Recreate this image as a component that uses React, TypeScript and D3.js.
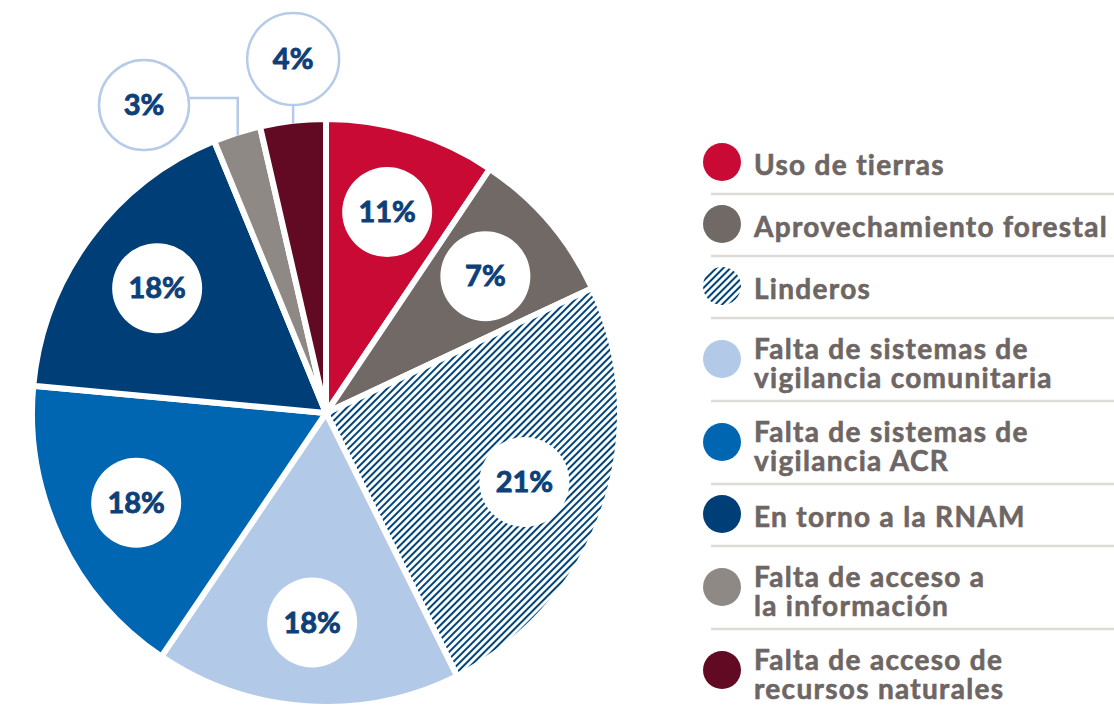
import { useMemo } from "react";
import * as d3 from "d3";

const categories = [
  "Uso de tierras",
  "Aprovechamiento forestal",
  "Linderos",
  "Falta de sistemas de vigilancia comunitaria",
  "Falta de sistemas de vigilancia ACR",
  "En torno a la RNAM",
  "Falta de acceso a la información",
  "Falta de acceso de recursos naturales",
];
const shares = [9.4, 8.6, 24.6, 16.8, 17.0, 17.3, 2.6, 3.6];
const pctLabels = ["11%", "7%", "21%", "18%", "18%", "18%", "3%", "4%"];
const legendLines = [
  ["Uso de tierras"],
  ["Aprovechamiento forestal"],
  ["Linderos"],
  ["Falta de sistemas de", "vigilancia comunitaria"],
  ["Falta de sistemas de", "vigilancia ACR"],
  ["En torno a la RNAM"],
  ["Falta de acceso a", "la información"],
  ["Falta de acceso de", "recursos naturales"],
];

const COLORS = [
  "#c90a34",
  "#716966",
  "url(#hatch)",
  "#b3c9e8",
  "#0066b1",
  "#003e78",
  "#8f8985",
  "#620a23",
];

const W = 1114;
const H = 705;
const CX = 326;
const CY = 413;
const R = 294;
const LABEL_R = 210;
const FONT = "Lato, 'Open Sans', sans-serif";
const NAVY = "#0d3f78";
const TEXT_GREY = "#6d6664";
const CALLOUT = "#b5cbe9";

export default function App() {
  const arcs = useMemo(
    () => d3.pie<number>().sort(null).value((d) => d)(shares),
    []
  );
  const arcGen = d3
    .arc<d3.PieArcDatum<number>>()
    .innerRadius(0)
    .outerRadius(R);
  const labelArc = d3
    .arc<d3.PieArcDatum<number>>()
    .innerRadius(LABEL_R)
    .outerRadius(LABEL_R);

  // point on the rim at a slice's mid angle
  const rim = (i: number) => {
    const a = (arcs[i].startAngle + arcs[i].endAngle) / 2;
    return [CX + (R - 3) * Math.sin(a), CY - (R - 3) * Math.cos(a)];
  };

  // legend rows
  let y = 132;
  const rows = legendLines.map((lines, i) => {
    const h = lines.length > 1 ? 83 : 62;
    const top = y;
    y += h;
    const cy = lines.length > 1 ? top + 41 : top + 30;
    return { i, lines, top, h, cy, sep: top + h };
  });

  const [gx, gy] = rim(6);
  const [mx, my] = rim(7);

  const pctText = (x: number, y: number, s: string) => (
    <text
      x={x}
      y={y}
      textAnchor="middle"
      fontFamily={FONT}
      fontWeight={700}
      fontSize={29}
      fill={NAVY}
      stroke={NAVY}
      strokeWidth={0.9}
    >
      {s}
    </text>
  );

  return (
    <svg
      width={W}
      height={H}
      style={{ position: "absolute", left: 0, top: 0, display: "block" }}
    >
      <defs>
        <pattern
          id="hatch"
          width={5}
          height={5}
          patternUnits="userSpaceOnUse"
          patternTransform="rotate(45)"
        >
          <rect width={5} height={5} fill="#fff" />
          <line x1={1} y1={0} x2={1} y2={5} stroke="#00457c" strokeWidth={2} />
        </pattern>
      </defs>
      <rect width={W} height={H} fill="#fff" />

      <g transform={`translate(${CX},${CY})`}>
        {arcs.map((a, i) => (
          <path
            key={categories[i]}
            d={arcGen(a) ?? ""}
            fill={COLORS[i]}
            stroke="#fff"
            strokeWidth={6}
          />
        ))}
        {arcs.slice(0, 6).map((a, i) => {
          const [lx, ly] = labelArc.centroid(a);
          return (
            <g key={"lbl" + i}>
              <circle cx={lx} cy={ly} r={45} fill="#fff" />
              {pctText(lx, ly + 10, pctLabels[i])}
            </g>
          );
        })}
      </g>

      {/* callouts for the small slices */}
      <polyline
        points={`${gx},${gy} ${gx},98 190,98`}
        fill="none"
        stroke={CALLOUT}
        strokeWidth={2.5}
      />
      <circle cx={144} cy={105} r={45} fill="#fff" stroke={CALLOUT} strokeWidth={2.5} />
      {pctText(144, 115, pctLabels[6])}
      <line x1={mx} y1={my} x2={mx} y2={105} stroke={CALLOUT} strokeWidth={2.5} />
      <circle cx={mx} cy={59} r={46} fill="#fff" stroke={CALLOUT} strokeWidth={2.5} />
      {pctText(mx, 69, pctLabels[7])}

      {/* legend */}
      {rows.map((r) => (
        <g key={"leg" + r.i}>
          <circle cx={722} cy={r.cy} r={19} fill={COLORS[r.i]} />
          <text
            x={754}
            y={r.lines.length > 1 ? r.cy : r.cy + 13}
            fontFamily={FONT}
            fontWeight={700}
            fontSize={28}
            letterSpacing={1.3}
            fill={TEXT_GREY}
            stroke={TEXT_GREY}
            strokeWidth={0.6}
          >
            {r.lines.map((ln, k) => (
              <tspan key={k} x={754} dy={k === 0 ? 0 : 29}>
                {ln}
              </tspan>
            ))}
          </text>
          {r.i < rows.length - 1 && (
            <line
              x1={711}
              x2={W}
              y1={r.sep}
              y2={r.sep}
              stroke="#dedcd6"
              strokeWidth={2.5}
            />
          )}
        </g>
      ))}
    </svg>
  );
}
